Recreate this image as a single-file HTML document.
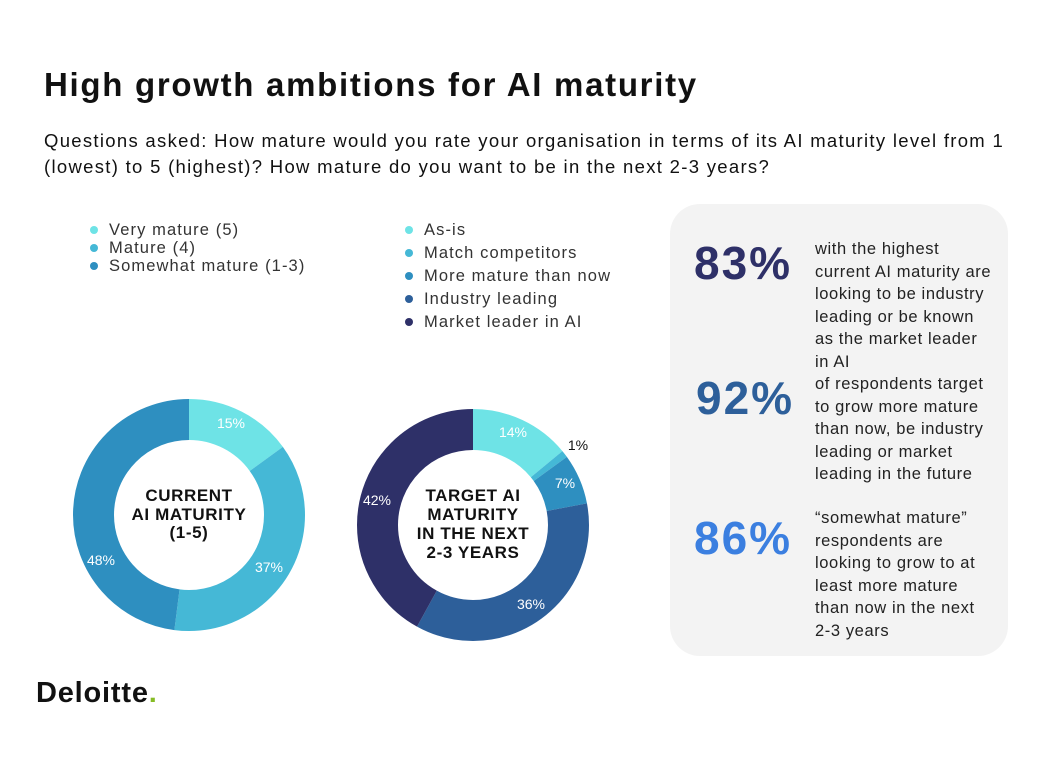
<!DOCTYPE html>
<html><head><meta charset="utf-8"><style>
body{margin:0;width:1046px;height:768px;background:#fff;font-family:"Liberation Sans",sans-serif;position:relative;overflow:hidden;color:#111}
.a{position:absolute;white-space:nowrap}
h1{position:absolute;left:44px;top:66px;margin:0;font-size:33px;font-weight:bold;letter-spacing:1.7px}
.q{left:44px;top:128px;font-size:18.5px;line-height:26px;color:#111;letter-spacing:1.3px}
.leg{font-size:16.5px;color:#333;line-height:23px;letter-spacing:1.1px}
.dot{display:inline-block;width:8px;height:8px;border-radius:50%;margin-right:11px;vertical-align:1px}
.panel{position:absolute;left:670px;top:204px;width:338px;height:452px;background:#f3f3f3;border-radius:30px}
.big{position:absolute;font-size:46px;font-weight:bold;left:694px;letter-spacing:2px}
.txt{position:absolute;left:815px;font-size:16.5px;line-height:22.5px;color:#222;letter-spacing:0.6px}
</style></head><body>
<h1>High growth ambitions for AI maturity</h1>
<div class="a q">Questions asked: How mature would you rate your organisation in terms of its AI maturity level from 1<br>(lowest) to 5 (highest)? How mature do you want to be in the next 2-3 years?</div>
<div class="a leg" style="left:90px;top:221px;line-height:18px"><span class="dot" style="background:#6ee3e6"></span>Very mature (5)<br><span class="dot" style="background:#45b8d6"></span>Mature (4)<br><span class="dot" style="background:#2e8fc0"></span>Somewhat mature (1-3)</div>
<div class="a leg" style="left:405px;top:219px"><span class="dot" style="background:#6ee3e6"></span>As-is<br><span class="dot" style="background:#45b8d6"></span>Match competitors<br><span class="dot" style="background:#2e8fc0"></span>More mature than now<br><span class="dot" style="background:#2d5f9a"></span>Industry leading<br><span class="dot" style="background:#2e3068"></span>Market leader in AI</div>
<svg class="a" style="left:0;top:0" width="1046" height="768">
<g transform="translate(189,515) rotate(-90)" fill="none" stroke-width="41">
<circle r="95.5" stroke="#6ee3e6" stroke-dasharray="90 510"/>
<circle r="95.5" stroke="#45b8d6" stroke-dasharray="222 378" stroke-dashoffset="-90"/>
<circle r="95.5" stroke="#2e8fc0" stroke-dasharray="288 312" stroke-dashoffset="-312"/>
</g>
<g transform="translate(473,525) rotate(-90)" fill="none" stroke-width="41">
<circle r="95.5" stroke="#6ee3e6" stroke-dasharray="84 516"/>
<circle r="95.5" stroke="#45b8d6" stroke-dasharray="6 594" stroke-dashoffset="-84"/>
<circle r="95.5" stroke="#2e8fc0" stroke-dasharray="42 558" stroke-dashoffset="-90"/>
<circle r="95.5" stroke="#2d5f9a" stroke-dasharray="216 384" stroke-dashoffset="-132"/>
<circle r="95.5" stroke="#2e3068" stroke-dasharray="252 348" stroke-dashoffset="-348"/>
</g>
<g font-family="Liberation Sans,sans-serif" font-size="14" fill="#fff" text-anchor="middle">
<text x="231" y="428">15%</text><text x="269" y="572">37%</text><text x="101" y="565">48%</text>
<text x="513" y="437">14%</text><text x="565" y="488">7%</text><text x="531" y="609">36%</text><text x="377" y="505">42%</text>
<text x="578" y="450" fill="#111">1%</text>
</g>
<g font-family="Liberation Sans,sans-serif" font-size="17" font-weight="bold" fill="#111" text-anchor="middle" letter-spacing="0.6">
<text x="189" y="501">CURRENT</text><text x="189" y="520">AI MATURITY</text><text x="189" y="538">(1-5)</text>
<text x="473" y="501">TARGET AI</text><text x="473" y="520">MATURITY</text><text x="473" y="539">IN THE NEXT</text><text x="473" y="558">2-3 YEARS</text>
</g>
</svg>
<div class="panel"></div>
<div class="big" style="top:236px;color:#2e3068">83%</div>
<div class="big" style="top:371px;color:#2d5f9a;left:696px">92%</div>
<div class="big" style="top:511px;color:#3b7fe0">86%</div>
<div class="txt" style="top:238px">with the highest<br>current AI maturity are<br>looking to be industry<br>leading or be known<br>as the market leader<br>in AI<br>of respondents target<br>to grow more mature<br>than now, be industry<br>leading or market<br>leading in the future</div>
<div class="txt" style="top:507px">“somewhat mature”<br>respondents are<br>looking to grow to at<br>least more mature<br>than now in the next<br>2-3 years</div>
<div class="a" style="left:36px;top:677px;font-size:29px;font-weight:bold;letter-spacing:0.8px">Deloitte<span style="color:#86bc25">.</span></div>
</body></html>
